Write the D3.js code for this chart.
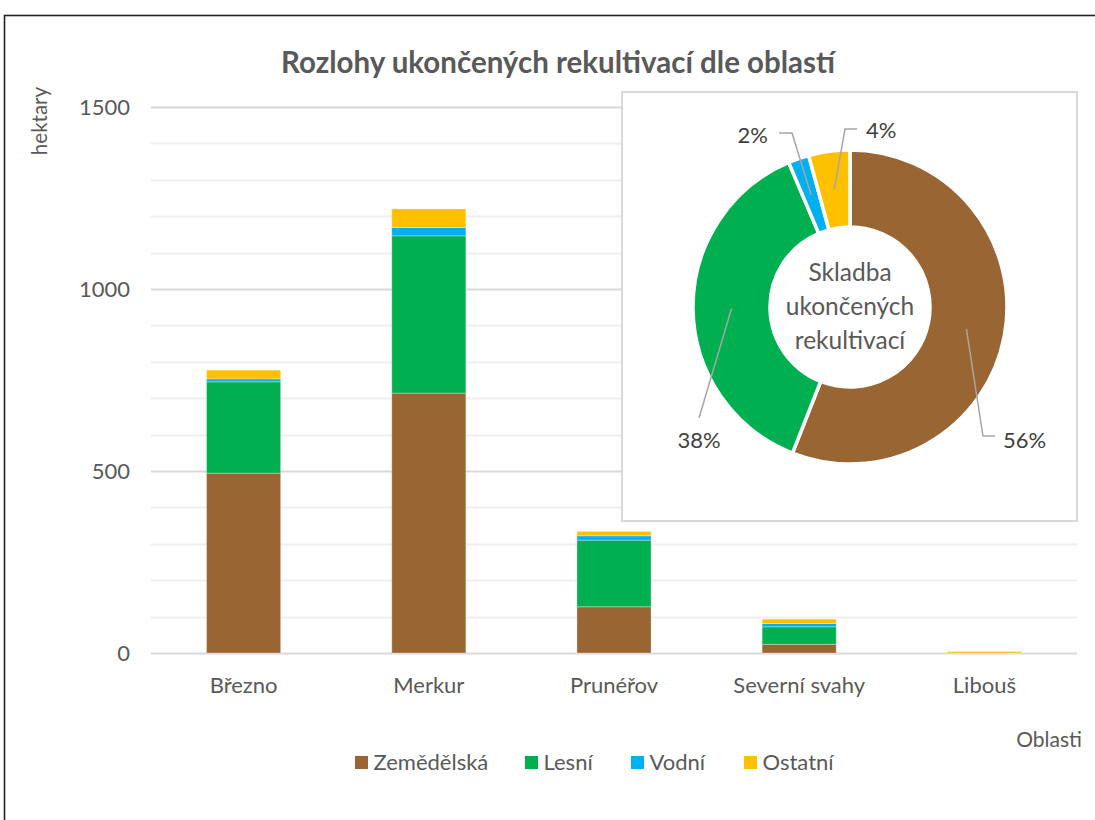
<!DOCTYPE html>
<html>
<head>
<meta charset="utf-8">
<script src="https://cdn.jsdelivr.net/npm/d3@7"></script>
<style>
  html, body { margin: 0; padding: 0; background: #fff; }
  svg { display: block; font-family: Lato, "Open Sans", sans-serif; }
</style>
</head>
<body>
<svg id="chart" width="1095" height="820"></svg>
<script>
// Areas (oblasti) and reclaimed-land composition in hectares
const categories = ["Březno", "Merkur", "Prunéřov", "Severní svahy", "Libouš"];
const seriesNames = ["Zemědělská", "Lesní", "Vodní", "Ostatní"];
const zemedelska = [494, 714, 127, 24, 0];
const lesni      = [251, 432, 183, 48, 0];
const vodni      = [8, 23, 12, 9, 0];
const ostatni    = [24, 51, 12, 12, 4];
const yTicks = [0, 500, 1000, 1500];
const colors = ["#996633", "#00B050", "#00B0F0", "#FFC000"];

const seriesValues = [zemedelska, lesni, vodni, ostatni];
const rows = categories.map((c, i) => {
  const r = { area: c };
  seriesNames.forEach((s, k) => { r[s] = seriesValues[k][i]; });
  return r;
});

const svg = d3.select("#chart");
const textColor = "#595959";

svg.append("rect").attr("width", 1095).attr("height", 820).attr("fill", "#fff");
// outer frame
svg.append("rect")
  .attr("x", 4.5).attr("y", 15.5).attr("width", 1110).attr("height", 830)
  .attr("fill", "none").attr("stroke", "#222").attr("stroke-width", 1.6);

// ---------- stacked columns ----------
const x = d3.scaleBand().domain(categories).range([151, 1077])
  .paddingInner(0.6).paddingOuter(0.3);
const y = d3.scaleLinear().domain([0, 1500]).range([653, 107]);

// gridlines every 100 ha, stronger every 500 ha
const grid = svg.append("g");
d3.range(0, 1501, 100).forEach(v => {
  const major = v % 500 === 0;
  grid.append("line")
    .attr("x1", 151).attr("x2", 1077)
    .attr("y1", Math.round(y(v)) + 0.5).attr("y2", Math.round(y(v)) + 0.5)
    .attr("stroke", major ? "#d9d9d9" : "#efefef")
    .attr("stroke-width", 2);
});

const stack = d3.stack().keys(seriesNames)(rows);
svg.append("g").selectAll("g").data(stack).join("g")
  .attr("fill", (d, i) => colors[i])
  .selectAll("rect").data(d => d).join("rect")
  .attr("x", d => x(d.data.area))
  .attr("width", x.bandwidth())
  .attr("y", d => y(d[1]))
  .attr("height", d => Math.max(0, y(d[0]) - y(d[1])))
  .attr("stroke", "rgba(255,255,255,0.3)")
  .attr("stroke-width", 1);

// y axis labels
const yAxis = d3.axisLeft(y).tickValues(yTicks).tickFormat(d3.format("d"))
  .tickSize(0).tickPadding(0);
const yg = svg.append("g").attr("transform", "translate(130,0)").call(yAxis);
yg.select(".domain").remove();
yg.selectAll("text").attr("fill", textColor).attr("font-size", 22)
  .attr("font-family", "Lato, sans-serif").attr("dy", "0.35em");

// x axis labels
const xAxis = d3.axisBottom(x).tickSize(0).tickPadding(0);
const xg = svg.append("g").attr("transform", "translate(0,693)").call(xAxis);
xg.select(".domain").remove();
xg.selectAll("text").attr("fill", textColor).attr("font-size", 22)
  .attr("font-family", "Lato, sans-serif").attr("dy", 0);

// titles
svg.append("text").attr("x", 558).attr("y", 73).attr("text-anchor", "middle")
  .attr("font-size", 29.5).attr("font-weight", "bold").attr("fill", textColor)
  .text("Rozlohy ukončených rekultivací dle oblastí");
svg.append("text").attr("transform", "translate(47,121) rotate(-90)")
  .attr("text-anchor", "middle").attr("font-size", 20.5).attr("fill", textColor)
  .text("hektary");
svg.append("text").attr("x", 1082).attr("y", 747).attr("text-anchor", "end")
  .attr("font-size", 21).attr("fill", textColor).text("Oblasti");

// legend
const legendX = [355, 525, 631, 744];
const lg = svg.append("g").selectAll("g").data(seriesNames).join("g")
  .attr("transform", (d, i) => `translate(${legendX[i]},756)`);
lg.append("rect").attr("width", 13).attr("height", 13).attr("fill", (d, i) => colors[i]);
lg.append("text").attr("x", 18.5).attr("y", 14).attr("font-size", 22)
  .attr("fill", textColor).text(d => d);

// ---------- inset donut: total composition ----------
svg.append("rect").attr("x", 622).attr("y", 92).attr("width", 455).attr("height", 429)
  .attr("fill", "#fff").attr("stroke", "#d9d9d9").attr("stroke-width", 2);

const totals = seriesValues.map(arr => d3.sum(arr));
const grand = d3.sum(totals);
const cx = 850, cy = 307, rOuter = 157, rInner = 80;
const pie = d3.pie().sort(null).value(d => d)(totals);
const arc = d3.arc().innerRadius(rInner).outerRadius(rOuter);
const donut = svg.append("g").attr("transform", `translate(${cx},${cy})`);
donut.selectAll("path").data(pie).join("path")
  .attr("d", arc).attr("fill", (d, i) => colors[i])
  .attr("stroke", "#fff").attr("stroke-width", 3.5);

// centre caption
["Skladba", "ukončených", "rekultivací"].forEach((t, i) => {
  donut.append("text").attr("y", -35 + i * 34).attr("dy", "0.35em")
    .attr("text-anchor", "middle").attr("font-size", 24.5).attr("fill", textColor).text(t);
});

// percentage labels with leader lines from each arc centroid
// bend: elbow point relative to centre; tail: horizontal run; anchor: text side
const labelLayout = [
  { bend: [133, 129], tail: 12, anchor: "start", tx: 153, ty: 133 },
  { bend: [-151, 111], tail: 0, anchor: "middle", tx: -151, ty: 133 },
  { bend: [-58, -174], tail: -13, anchor: "end", tx: -82, ty: -172 },
  { bend: [-5, -178], tail: 12, anchor: "start", tx: 16, ty: -177 }
];
pie.forEach((d, i) => {
  const c = arc.centroid(d);
  const L = labelLayout[i];
  const pts = [c, L.bend, [L.bend[0] + L.tail, L.bend[1]]];
  donut.append("path").attr("d", d3.line()(pts))
    .attr("fill", "none").attr("stroke", "#a6a6a6").attr("stroke-width", 1.5);
  donut.append("text").attr("x", L.tx).attr("y", L.ty).attr("dy", "0.35em")
    .attr("text-anchor", L.anchor).attr("font-size", 22).attr("fill", "#404040")
    .text(Math.round(d.value / grand * 100) + "%");
});
</script>
</body>
</html>
